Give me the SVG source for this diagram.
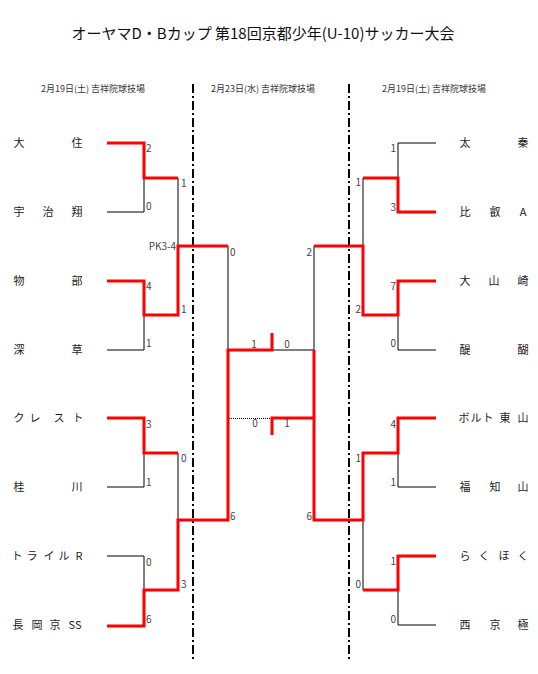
<svg xmlns="http://www.w3.org/2000/svg" width="538" height="674" viewBox="0 0 538 674">
<style>
text{font-family:"Noto Sans CJK JP","Noto Sans",sans-serif;fill:#222}
.title{font-size:15px;fill:#111}
.hdr{font-size:9px;fill:#333}
.nm{font-size:11px;text-anchor:middle}
.sc{font-size:10px;fill:#444}
.scr{font-size:10px;fill:#444;text-anchor:end}
.scm{font-size:10px;fill:#444;text-anchor:middle}
.bk{fill:none;stroke:#000;stroke-width:1}
.rd{fill:none;stroke:#f00;stroke-width:3}
.dd{fill:none;stroke:#000;stroke-width:2;stroke-dasharray:9 3 2 3}
.dot{fill:none;stroke:#000;stroke-width:1;stroke-dasharray:1 1}
</style>
<rect width="538" height="674" fill="#fff"/>
<text class="title" x="263" y="39" text-anchor="middle">オーヤマD・Bカップ 第18回京都少年(U-10)サッカー大会</text>
<g id="headers">
<text class="hdr" x="93" y="92" text-anchor="middle">2月19日(土) 吉祥院球技場</text>
<text class="hdr" x="263" y="92" text-anchor="middle">2月23日(水) 吉祥院球技場</text>
<text class="hdr" x="434" y="92" text-anchor="middle">2月19日(土) 吉祥院球技場</text>
</g>
<g id="dividers">
<path class="dd" d="M193,84 V660 M349,84 V660"/>
</g>
<g id="connectors">
<path class="bk" d="M107,212 H144 V178 M107,350 H144 V315 M107,487 H144 V453 M107,556 H144 V590 M178,178 V246 M178,453 V520"/>
<path class="bk" d="M228,246 V350 M314,246 V350 M272,350 H314"/>
<path class="dot" d="M229,418.5 H272"/>
<path class="bk" d="M436,143 H398 V178 M436,350 H398 V315 M436,487 H398 V453 M436,625 H398 V590 M363,178 V246 M363,520 V590"/>
<path class="rd" d="M107,143 H144 V178 H178"/>
<path class="rd" d="M107,281 H144 V315 H178 V246 H228"/>
<path class="rd" d="M107,418 H144 V453 H178"/>
<path class="rd" d="M107,626 H144 V590 H178 V520 H228 V350 H272 V333"/>
<path class="rd" d="M272,435 V418 H314"/>
<path class="rd" d="M436,212 H398 V178 H363"/>
<path class="rd" d="M436,281 H398 V315 H363 V246 H314"/>
<path class="rd" d="M436,418 H398 V453 H363 V520 H314 V350"/>
<path class="rd" d="M436,556 H398 V590 H363"/>
</g>
<g id="scores">
<text class="sc" x="146" y="152">2</text>
<text class="sc" x="181" y="187">1</text>
<text class="sc" x="146" y="210">0</text>
<text class="scr" x="176" y="249.5">PK3-4</text>
<text class="sc" x="230" y="256">0</text>
<text class="sc" x="146" y="290">4</text>
<text class="sc" x="181" y="313">1</text>
<text class="sc" x="146" y="347">1</text>
<text class="sc" x="146" y="428">3</text>
<text class="sc" x="181" y="462">0</text>
<text class="sc" x="146" y="486">1</text>
<text class="sc" x="230" y="520">6</text>
<text class="sc" x="146" y="566">0</text>
<text class="sc" x="181" y="588">3</text>
<text class="sc" x="146" y="623">6</text>
<text class="scm" x="254" y="348">1</text>
<text class="scm" x="287" y="348">0</text>
<text class="scm" x="255" y="427">0</text>
<text class="scm" x="287" y="427">1</text>
<text class="scr" x="396" y="152">1</text>
<text class="scr" x="361" y="186">1</text>
<text class="scr" x="396" y="211">3</text>
<text class="scr" x="312" y="256">2</text>
<text class="scr" x="396" y="290">7</text>
<text class="scr" x="361" y="313">2</text>
<text class="scr" x="396" y="347">0</text>
<text class="scr" x="396" y="428">4</text>
<text class="scr" x="361" y="462">1</text>
<text class="scr" x="396" y="486">1</text>
<text class="scr" x="312" y="520">6</text>
<text class="scr" x="396" y="565">1</text>
<text class="scr" x="361" y="588">0</text>
<text class="scr" x="396" y="623">0</text>
</g>
<g id="team-daiju"><text class="nm" y="147"><tspan x="19">大</tspan><tspan x="77">住</tspan></text></g>
<g id="team-ujisho"><text class="nm" y="216"><tspan x="19">宇</tspan><tspan x="48">治</tspan><tspan x="77">翔</tspan></text></g>
<g id="team-mononobe"><text class="nm" y="285"><tspan x="19">物</tspan><tspan x="77">部</tspan></text></g>
<g id="team-fukakusa"><text class="nm" y="354"><tspan x="19">深</tspan><tspan x="77">草</tspan></text></g>
<g id="team-crest"><text class="nm" y="422"><tspan x="19">ク</tspan><tspan x="35">レ</tspan><tspan x="59">ス</tspan><tspan x="78">ト</tspan></text></g>
<g id="team-katsuragawa"><text class="nm" y="491"><tspan x="19">桂</tspan><tspan x="77">川</tspan></text></g>
<g id="team-trailr"><text class="nm" y="560"><tspan x="17">ト</tspan><tspan x="32">ラ</tspan><tspan x="49">イ</tspan><tspan x="64">ル</tspan><tspan x="79">R</tspan></text></g>
<g id="team-nagaokakyo"><text class="nm" y="629"><tspan x="18">長</tspan><tspan x="37">岡</tspan><tspan x="55">京</tspan><tspan x="75">SS</tspan></text></g>
<g id="team-uzumasa"><text class="nm" y="147"><tspan x="465">太</tspan><tspan x="523">秦</tspan></text></g>
<g id="team-hiei"><text class="nm" y="216"><tspan x="465">比</tspan><tspan x="495">叡</tspan><tspan x="523">A</tspan></text></g>
<g id="team-oyamazaki"><text class="nm" y="285"><tspan x="465">大</tspan><tspan x="494">山</tspan><tspan x="523">崎</tspan></text></g>
<g id="team-daigo"><text class="nm" y="354"><tspan x="465">醍</tspan><tspan x="523">醐</tspan></text></g>
<g id="team-bolt"><text class="nm" y="422"><tspan x="464">ボ</tspan><tspan x="476">ル</tspan><tspan x="488">ト</tspan><tspan x="505">東</tspan><tspan x="523">山</tspan></text></g>
<g id="team-fukuchiyama"><text class="nm" y="491"><tspan x="465">福</tspan><tspan x="495">知</tspan><tspan x="523">山</tspan></text></g>
<g id="team-rakuhoku"><text class="nm" y="560"><tspan x="465">ら</tspan><tspan x="484">く</tspan><tspan x="504">ほ</tspan><tspan x="523">く</tspan></text></g>
<g id="team-saikyogoku"><text class="nm" y="629"><tspan x="465">西</tspan><tspan x="495">京</tspan><tspan x="523">極</tspan></text></g>
</svg>
